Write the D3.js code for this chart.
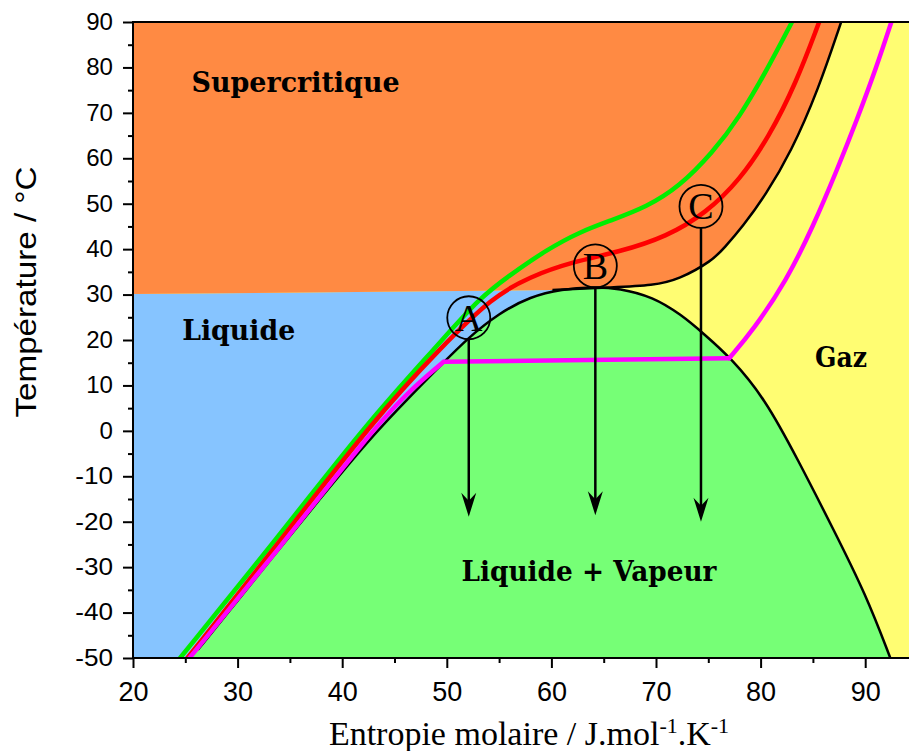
<!DOCTYPE html>
<html>
<head>
<meta charset="utf-8">
<script src="https://d3js.org/d3.v7.min.js"></script>
<style>
  body { margin: 0; background: #fff; }
  svg { display: block; }
  .tick text { font-family: "Liberation Sans", Arial, sans-serif; fill: #000; }
  .lbl { font-family: "DejaVu Serif", serif; font-weight: bold; font-size: 27px; fill: #000; }
</style>
</head>
<body>
<svg id="chart" width="909" height="751"></svg>
<script>
// entropie molaire (J/mol/K), temperature (°C)
const dome = [[26.2,-48.2],[30,-37.4],[33.1,-28.5],[38,-14.6],[42.6,-1.8],[46.5,7.6],[49.5,14.6],[52,20.4],[55,25.9],[58,29.6],[61,31.2],[64,31.7],[66.5,31.4],[69.7,29.5],[72.4,25.6],[74.6,21.3],[77.1,16.2],[80.4,7.2],[83.6,-6.5],[86.9,-21.4],[90.1,-36.2],[92.4,-50]];
const critique = [[60.1,31.0],[66,31.6],[69.7,32.0],[72.2,33.3],[75.4,37.5],[76.5,40.2],[78.3,45],[80.5,52],[82.9,61.3],[85.5,75],[87.7,90]];
const liquideHaut = [[20,30.1],[60.1,31.0]];
const isoVert = [[24.5,-50],[33.1,-25.6],[42.6,2.4],[49,18.5],[53.2,29.5],[56.3,34.7],[59.5,39.8],[62.7,43.8],[65.8,46.4],[69.1,49.3],[72.2,53.7],[75.4,61.2],[78,69.1],[80.6,79.4],[83,90]];
const isoRouge = [[25.2,-50],[33.6,-25.6],[43,2.4],[49.5,18.5],[54.4,29.5],[57.9,33.9],[62,37.2],[66.5,39.4],[71,42.7],[74.8,48],[78,55.2],[80.8,64.7],[83.4,76.6],[85.6,90]];
const isoRoseLiq = [[25.4,-50],[34,-25.8],[42.6,-0.6],[46.3,8.6],[49.7,15.2]];
const isoRoseVap = [[77,16.0],[79.3,22.2],[82.5,33.2],[85,44.9],[87.3,57.4],[89.2,68.4],[91.1,80.2],[92.5,90]];

const pointNom = ["A", "B", "C"];
const pointS = [52.1, 64.2, 74.3];
const pointT = [24.9, 36.3, 49.4];
const flecheT = [-18.9, -18.6, -20];

const xTicks = [20, 30, 40, 50, 60, 70, 80, 90];
const xMinor = [25, 35, 45, 55, 65, 75, 85];
const yTicks = [-50, -40, -30, -20, -10, 0, 10, 20, 30, 40, 50, 60, 70, 80, 90];
const yMinor = [-45, -35, -25, -15, -5, 5, 15, 25, 35, 45, 55, 65, 75, 85];

const zones = [
  {nom: "Supercritique", s: 25.6, t: 74.6, w: 208},
  {nom: "Liquide", s: 24.7, t: 20.0, w: 113},
  {nom: "Gaz", s: 85.2, t: 14.1, w: 52},
  {nom: "Liquide + Vapeur", s: 51.4, t: -33.0, w: 255}
];

const W = 909, H = 751;
const mLeft = 133, mTop = 22, mBottom = 658;
const x = d3.scaleLinear().domain([20, 90]).range([mLeft, mLeft + 70 * 10.46]);
const y = d3.scaleLinear().domain([-50, 90]).range([mBottom, mTop]);

const svg = d3.select("#chart");
svg.append("defs").append("clipPath").attr("id", "plot")
  .append("rect").attr("x", mLeft).attr("y", mTop).attr("width", W - mLeft).attr("height", mBottom - mTop);

const smooth = d3.line().x(d => x(d[0])).y(d => y(d[1])).curve(d3.curveBasis);
const pt = (s, t) => `${x(s)},${y(t)}`;

const g = svg.append("g").attr("clip-path", "url(#plot)");

// zones
g.append("rect").attr("x", mLeft).attr("y", mTop).attr("width", W - mLeft).attr("height", mBottom - mTop)
  .attr("fill", "#fffd72");
g.append("path")
  .attr("d", smooth(dome) + `L${pt(25.5, -50)}Z`)
  .attr("fill", "#76ff76");
g.append("path")
  .attr("d", smooth(dome.slice(0, 11)) + `L${pt(60.1, 31)}L${pt(20, 30.1)}L${pt(20, -50)}L${pt(25.5, -50)}Z`)
  .attr("fill", "#86c4ff");
g.append("path")
  .attr("d", smooth(critique) + `L${pt(87.7, 92)}L${pt(20, 92)}L${pt(liquideHaut[0][0], liquideHaut[0][1])}Z`)
  .attr("fill", "#ff8a43");

// courbes
g.append("path").attr("d", smooth(dome)).attr("fill", "none").attr("stroke", "#000").attr("stroke-width", 2.5);
g.append("path").attr("d", smooth(critique)).attr("fill", "none").attr("stroke", "#000").attr("stroke-width", 2.5);

const iso = [
  {d: isoVert, c: "#00ee00"},
  {d: isoRouge, c: "#ff0000"},
  {d: isoRoseLiq, c: "#ff00ff"},
  {d: [isoRoseLiq[isoRoseLiq.length - 1], isoRoseVap[0]], c: "#ff00ff"},
  {d: isoRoseVap, c: "#ff00ff"}
];
g.selectAll(".iso").data(iso).join("path")
  .attr("class", "iso")
  .attr("d", d => smooth(d.d))
  .attr("fill", "none")
  .attr("stroke", d => d.c)
  .attr("stroke-width", 4.5)
  .attr("stroke-linecap", "round")
  .attr("stroke-linejoin", "round");

// fleches A B C
const r = 21.5;
const pts = pointNom.map((n, i) => ({n: n, s: pointS[i], t: pointT[i], f: flecheT[i]}));
const fl = g.selectAll(".pt").data(pts).join("g").attr("class", "pt");
fl.append("line")
  .attr("x1", d => x(d.s)).attr("x2", d => x(d.s))
  .attr("y1", d => y(d.t) + r).attr("y2", d => y(d.f) - 14)
  .attr("stroke", "#000").attr("stroke-width", 2.5);
fl.append("path")
  .attr("d", "M0,0L-7.5,-24L0,-16L7.5,-24Z")
  .attr("transform", d => `translate(${x(d.s)},${y(d.f)})`)
  .attr("fill", "#000");
fl.append("circle")
  .attr("cx", d => x(d.s)).attr("cy", d => y(d.t)).attr("r", r)
  .attr("fill", "none").attr("stroke", "#000").attr("stroke-width", 1.8);
fl.append("text")
  .attr("x", d => x(d.s)).attr("y", d => y(d.t) + 13)
  .attr("text-anchor", "middle")
  .style("font-family", "'Liberation Serif', serif").style("font-size", "38px")
  .text(d => d.n);

// textes des zones
g.selectAll(".lbl").data(zones).join("text")
  .attr("class", "lbl")
  .attr("x", d => x(d.s)).attr("y", d => y(d.t))
  .attr("textLength", d => d.w).attr("lengthAdjust", "spacingAndGlyphs")
  .text(d => d.nom);

// axes
const ya = svg.append("g").attr("transform", `translate(${mLeft},0)`)
  .call(d3.axisLeft(y).tickValues(yTicks).tickSize(10).tickPadding(10).tickSizeOuter(0).tickFormat(d => String(d)));
ya.selectAll("text").style("font-size", "23px")
  .attr("textLength", d => String(Math.abs(d)).length * 13.4 + (d < 0 ? 11 : 0))
  .attr("lengthAdjust", "spacingAndGlyphs");
const yb = svg.append("g").attr("transform", `translate(${mLeft},0)`)
  .call(d3.axisLeft(y).tickValues(yMinor).tickSize(5).tickSizeOuter(0).tickFormat(""));
const xa = svg.append("g").attr("transform", `translate(0,${mBottom})`)
  .call(d3.axisBottom(x).tickValues(xTicks).tickSize(10).tickPadding(14).tickSizeOuter(0).tickFormat(d => String(d)));
xa.selectAll("text").style("font-size", "27px");
const xb = svg.append("g").attr("transform", `translate(0,${mBottom})`)
  .call(d3.axisBottom(x).tickValues(xMinor).tickSize(5).tickSizeOuter(0).tickFormat(""));
[ya, yb, xa, xb].forEach(a => {
  a.select(".domain").remove();
  a.selectAll("line").attr("stroke-width", 2);
});

// cadre
svg.append("path")
  .attr("d", `M${W},${mTop}H${mLeft}V${mBottom}H${W}`)
  .attr("fill", "none").attr("stroke", "#000").attr("stroke-width", 2);

// titres
svg.append("text")
  .attr("transform", `translate(36,${292})rotate(-90)`)
  .attr("text-anchor", "middle")
  .attr("textLength", 251).attr("lengthAdjust", "spacingAndGlyphs")
  .style("font-family", "'Liberation Sans', Arial, sans-serif").style("font-size", "29px")
  .text("Température / °C");

const xt = svg.append("text")
  .attr("x", 529).attr("y", 745)
  .attr("text-anchor", "middle")
  .style("font-family", "'Liberation Serif', serif").style("font-size", "34px");
xt.append("tspan").text("Entropie molaire / J.mol");
xt.append("tspan").attr("dy", -12).style("font-size", "22px").text("-1");
xt.append("tspan").attr("dy", 12).text(".K");
xt.append("tspan").attr("dy", -12).style("font-size", "22px").text("-1");
</script>
</body>
</html>
